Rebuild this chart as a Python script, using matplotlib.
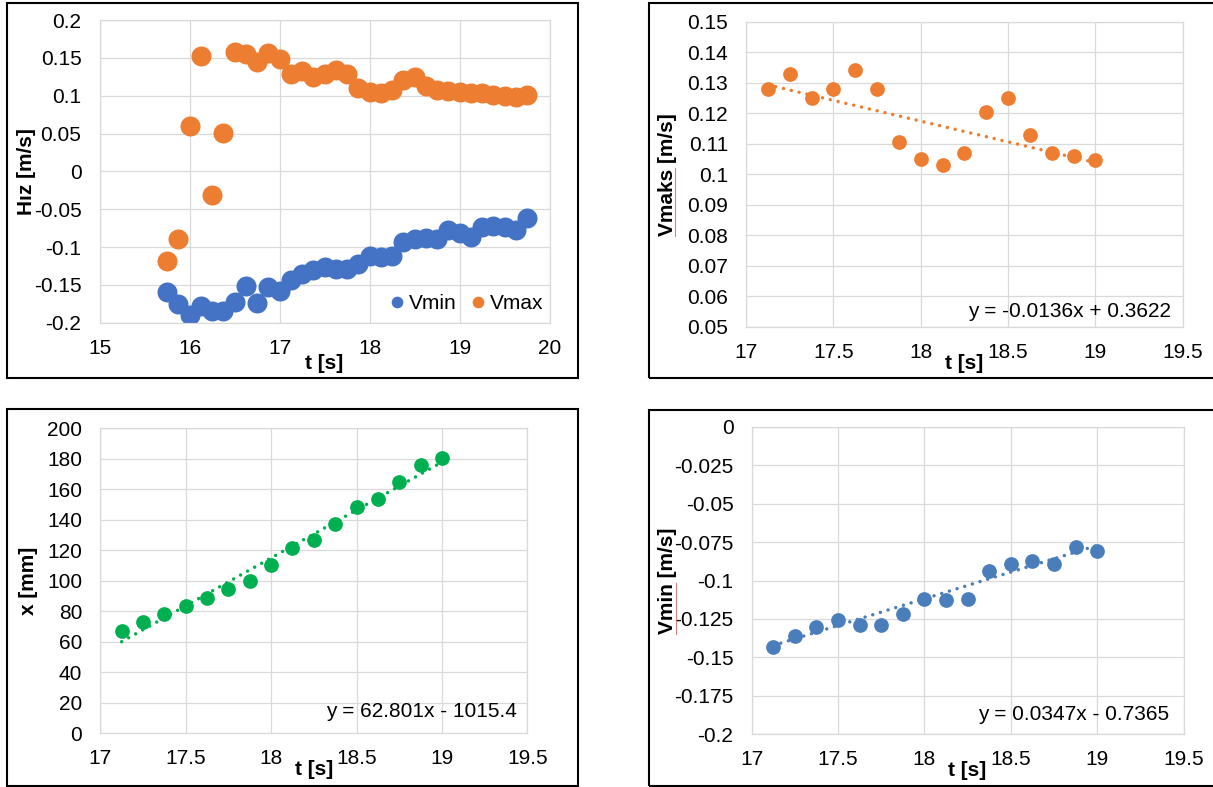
import matplotlib
matplotlib.use("Agg")
import numpy as np
import matplotlib.pyplot as plt
from matplotlib.lines import Line2D
from matplotlib.patches import Rectangle

plt.rcParams['font.family'] = ['Liberation Sans', 'DejaVu Sans']

# ---- data -----------------------------------------------------------
t = [15.75, 15.875, 16.0, 16.125, 16.25, 16.375, 16.5, 16.625, 16.75,
     16.875, 17.0, 17.125, 17.25, 17.375, 17.5, 17.625, 17.75, 17.875,
     18.0, 18.125, 18.25, 18.375, 18.5, 18.625, 18.75, 18.875, 19.0,
     19.125, 19.25, 19.375, 19.5, 19.625, 19.75]

v_min = [-0.159, -0.175, -0.190, -0.178, -0.185, -0.185, -0.172, -0.152,
         -0.174, -0.153, -0.158, -0.143, -0.136, -0.130, -0.126, -0.129,
         -0.1287, -0.122, -0.112, -0.113, -0.112, -0.094, -0.0895, -0.0875,
         -0.0895, -0.078, -0.081, -0.087, -0.073, -0.072, -0.073, -0.077,
         -0.062]

v_max = [-0.119, -0.090, 0.060, 0.152, -0.031, 0.051, 0.158, 0.155, 0.144,
         0.156, 0.148, 0.128, 0.133, 0.125, 0.128, 0.134, 0.128, 0.1105,
         0.105, 0.103, 0.107, 0.1205, 0.125, 0.113, 0.107, 0.106, 0.1045,
         0.104, 0.103, 0.101, 0.099, 0.098, 0.101]

# interval used for the linear fits (17.125 s .. 19.0 s)
fit_slice = slice(11, 27)
t_fit = t[fit_slice]
vmax_fit = v_max[fit_slice]
vmin_fit = v_min[fit_slice]

x_mm = [67.3, 72.8, 78.5, 83.5, 89.0, 94.4, 99.9, 110.6, 121.3, 126.8,
        137.5, 148.6, 153.9, 164.8, 175.7, 180.8]

# trendline coefficients (slope, intercept)
vmax_trend = (-0.0136, 0.3622)
x_trend = (62.801, -1015.4)
vmin_trend = (0.0347, -0.7365)

# tick labels
tl_xticks = ['15', '16', '17', '18', '19', '20']
tl_yticks = ['-0.2', '-0.15', '-0.1', '-0.05', '0', '0.05', '0.1', '0.15', '0.2']
fit_xticks = ['17', '17.5', '18', '18.5', '19', '19.5']
vmax_yticks = ['0.05', '0.06', '0.07', '0.08', '0.09', '0.1', '0.11', '0.12',
               '0.13', '0.14', '0.15']
x_yticks = ['0', '20', '40', '60', '80', '100', '120', '140', '160', '180', '200']
vmin_yticks = ['-0.2', '-0.175', '-0.15', '-0.125', '-0.1', '-0.075', '-0.05',
               '-0.025', '0']

# ---- colours & sizes ------------------------------------------------
ORANGE = '#ed7d31'
BLUE = '#4472c4'
BLUE2 = '#4a7ebb'
GREEN = '#00b050'
GRID = '#d9d9d9'
FS = 15

W, H = 1213, 787
fig = plt.figure(figsize=(W / 100, H / 100), dpi=100)
fig.patch.set_facecolor('white')


def px_axes(x0, y0, x1, y1):
    return fig.add_axes([x0 / W, 1 - y1 / H, (x1 - x0) / W, (y1 - y0) / H])


def frame(x0, y0, x1, y1):
    fig.patches.append(Rectangle((x0 / W, 1 - y1 / H), (x1 - x0) / W,
                                 (y1 - y0) / H, transform=fig.transFigure,
                                 fill=False, ec='black', lw=1.5, zorder=0))


def style(ax, xlim, xticks, xlabels, ylim, yticks, ylabels):
    ax.set_xlim(xlim)
    ax.set_ylim(ylim)
    ax.set_xticks(xticks)
    ax.set_xticklabels(xlabels)
    ax.set_yticks(yticks)
    ax.set_yticklabels(ylabels)
    ax.grid(True, color=GRID, lw=0.9)
    ax.set_axisbelow(True)
    for s in ax.spines.values():
        s.set_color(GRID)
        s.set_linewidth(0.9)
    ax.tick_params(axis='both', length=0, labelsize=FS, colors='black')
    ax.tick_params(axis='y', pad=13.0)
    ax.tick_params(axis='x', pad=11.5)


def labels(ax, xlab, ylab, xy, yx):
    ax.set_xlabel(xlab, fontsize=FS, fontweight='bold')
    ax.set_ylabel(ylab, fontsize=FS, fontweight='bold')
    ax.xaxis.label.set(va='center', ha='center')
    ax.yaxis.label.set(va='center', ha='center')
    ax.xaxis.set_label_coords(0.5, xy)
    ax.yaxis.set_label_coords(yx, 0.5)


def trend(ax, coef, tt, color):
    tt = np.array([tt[0], tt[-1]])
    ax.plot(tt, coef[0] * tt + coef[1], color=color, lw=2.5,
            ls=(0, (0.01, 2.3)), dash_capstyle='round', zorder=3)


def fmt_eq(coef, digits):
    sign = '+' if coef[1] >= 0 else '-'
    return f"y = {coef[0]:.{digits[0]}f}x {sign} {abs(coef[1]):.{digits[1]}f}"


# panel frames
frame(7, 3, 578, 378)
frame(649, 3, 1222, 378)
frame(7, 409, 578, 786)
frame(649, 410, 1222, 786)

# ---- top left: Vmin / Vmax over the whole run ----------------------
ax1 = px_axes(99.5, 20, 549.6, 322.7)
style(ax1, (15, 20), [15, 16, 17, 18, 19, 20], tl_xticks,
      (-0.2, 0.2), [float(v) for v in tl_yticks], tl_yticks)
ax1.plot(t, v_min, 'o', ms=14.4, color=BLUE, mec='none', zorder=2)
ax1.plot(t, v_max, 'o', ms=14.4, color=ORANGE, mec='none', zorder=2)
labels(ax1, 't [s]', 'Hız [m/s]', -0.134, -0.1616)
handles = [Line2D([], [], marker='o', ls='', color=BLUE, mec='none', ms=8.4),
           Line2D([], [], marker='o', ls='', color=ORANGE, mec='none', ms=8.4)]
ax1.legend(handles, ['Vmin', 'Vmax'], loc='center', bbox_to_anchor=(0.817, 0.062),
           ncol=2, frameon=False, fontsize=FS, handlelength=0.6,
           handletextpad=0.25, columnspacing=0.75, borderpad=0, borderaxespad=0)

# ---- top right: Vmaks with linear fit --------------------------------
ax2 = px_axes(746, 21.7, 1182.8, 326.7)
style(ax2, (17, 19.5), [float(v) for v in fit_xticks], fit_xticks,
      (0.05, 0.15), [float(v) for v in vmax_yticks], vmax_yticks)
ax2.plot(t_fit, vmax_fit, 'o', ms=10.6, color=ORANGE, mec='none', zorder=2)
trend(ax2, vmax_trend, t_fit, ORANGE)
ax2.text(0.972, 0.049, fmt_eq(vmax_trend, (4, 4)), transform=ax2.transAxes,
         ha='right', va='center', fontsize=FS)
labels(ax2, 't [s]', 'Vmaks [m/s]', -0.12, -0.18)

# ---- bottom left: position with linear fit ---------------------------
ax3 = px_axes(100.3, 428.3, 527.4, 733.3)
style(ax3, (17, 19.5), [float(v) for v in fit_xticks], fit_xticks,
      (0, 200), [float(v) for v in x_yticks], x_yticks)
ax3.plot(t_fit, x_mm, 'o', ms=10.6, color=GREEN, mec='none', zorder=2)
trend(ax3, x_trend, t_fit, GREEN)
ax3.text(0.975, 0.071, fmt_eq(x_trend, (3, 1)), transform=ax3.transAxes,
         ha='right', va='center', fontsize=FS)
labels(ax3, 't [s]', 'x [mm]', -0.12, -0.168)

# ---- bottom right: Vmin with linear fit ------------------------------
ax4 = px_axes(751.5, 426.7, 1183.5, 734.3)
style(ax4, (17, 19.5), [float(v) for v in fit_xticks], fit_xticks,
      (-0.2, 0), [float(v) for v in vmin_yticks], vmin_yticks)
ax4.plot(t_fit, vmin_fit, 'o', ms=10.6, color=BLUE2, mec='none', zorder=2)
trend(ax4, vmin_trend, t_fit, BLUE2)
ax4.text(0.966, 0.063, fmt_eq(vmin_trend, (4, 4)), transform=ax4.transAxes,
         ha='right', va='center', fontsize=FS)
labels(ax4, 't [s]', 'Vmin [m/s]', -0.118, -0.194)

# red proofing underline under the first word of two axis titles
fig.canvas.draw()
renderer = fig.canvas.get_renderer()
for ax, word in ((ax2, 'Vmaks'), (ax4, 'Vmin')):
    bb = ax.yaxis.label.get_window_extent(renderer)
    tmp = fig.text(0, 0, word, fontsize=FS, fontweight='bold')
    ww = tmp.get_window_extent(renderer).width
    tmp.remove()
    xline = (bb.x1 - 1.5) / W
    fig.add_artist(Line2D([xline, xline], [bb.y0 / H, (bb.y0 + ww) / H],
                          transform=fig.transFigure, color='#e06666',
                          lw=0.8, alpha=0.85))

fig.savefig('out.png', dpi=100, facecolor='white')
